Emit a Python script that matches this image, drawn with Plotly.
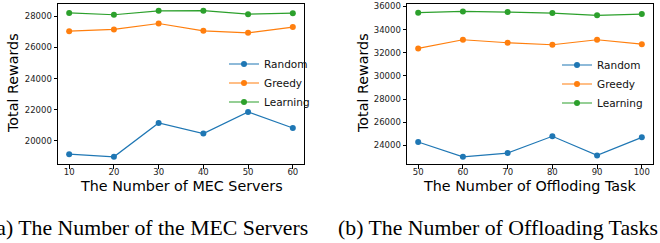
import plotly.graph_objects as go

W, H = 660, 243          # visible window
FW = 720                 # figure is a bit wider so the right legend is not clamped

# ---- data ----
servers = [10, 20, 30, 40, 50, 60]
srv_random = [19150, 18980, 21150, 20470, 21860, 20830]
srv_greedy = [27040, 27150, 27530, 27060, 26930, 27300]
srv_learning = [28210, 28090, 28340, 28350, 28130, 28190]

tasks = [50, 60, 70, 80, 90, 100]
tsk_random = [24290, 23010, 23330, 24780, 23130, 24690]
tsk_greedy = [32370, 33120, 32860, 32690, 33120, 32740]
tsk_learning = [35460, 35570, 35510, 35430, 35230, 35340]

series_names = ["Random", "Greedy", "Learning"]
colors = ["#1f77b4", "#ff7f0e", "#2ca02c"]

left_yticks = [20000, 22000, 24000, 26000, 28000]
right_yticks = [24000, 26000, 28000, 30000, 32000, 34000, 36000]

left_xtitle = "The Number of MEC Servers"
right_xtitle = "The Number of Offloding Task"
ytitle = "Total Rewards"
caption_a = "(a) The Number of the MEC Servers"
caption_b = "(b) The Number of Offloading Tasks"


def px_x(p):
    return p / FW


def px_y(p):
    return 1 - p / H


fig = go.Figure()

for name, col, ys in zip(series_names, colors, [srv_random, srv_greedy, srv_learning]):
    fig.add_trace(go.Scatter(x=servers, y=ys, mode="lines+markers", name=name,
                             line=dict(color=col, width=1.2),
                             marker=dict(color=col, size=6),
                             xaxis="x", yaxis="y", legend="legend"))
for name, col, ys in zip(series_names, colors, [tsk_random, tsk_greedy, tsk_learning]):
    fig.add_trace(go.Scatter(x=tasks, y=ys, mode="lines+markers", name=name,
                             line=dict(color=col, width=1.2),
                             marker=dict(color=col, size=6),
                             xaxis="x2", yaxis="y2", legend="legend2"))

axis_common = dict(showgrid=False, zeroline=False, showline=True, linecolor="black",
                   linewidth=1, mirror=True, ticks="outside", ticklen=3.5, tickwidth=0.8,
                   tickcolor="black", tickformat="d",
                   tickfont=dict(family="DejaVu Sans", size=8.5, color="#222"))

ydom = [px_y(164), px_y(4)]
legend_font = dict(family="DejaVu Sans", size=10.5, color="#111")

fig.update_layout(
    width=FW, height=H,
    margin=dict(l=0, r=0, t=0, b=0, autoexpand=False),
    paper_bgcolor="white", plot_bgcolor="white",
    font=dict(family="DejaVu Sans", color="black"),
    xaxis=dict(domain=[px_x(58), px_x(304)], range=[7.5, 62.5], tickvals=servers,
               anchor="y", ticklabelstandoff=-4, **axis_common),
    yaxis=dict(domain=ydom, range=[18520, 28780], tickvals=left_yticks,
               anchor="x", **axis_common),
    xaxis2=dict(domain=[px_x(407), px_x(653)], range=[47.5, 102.5], tickvals=tasks,
                anchor="y2", ticklabelstandoff=-4, **axis_common),
    yaxis2=dict(domain=ydom, range=[22385, 36210], tickvals=right_yticks,
                anchor="x2", **axis_common),
    legend=dict(x=px_x(224), y=px_y(83), xanchor="left", yanchor="middle",
                bgcolor="rgba(0,0,0,0)", font=legend_font),
    legend2=dict(x=px_x(557), y=px_y(84), xanchor="left", yanchor="middle",
                 bgcolor="rgba(0,0,0,0)", font=legend_font),
    showlegend=True,
)

ann = []
for xc in [13, 363]:
    ann.append(dict(text=ytitle, x=px_x(xc), y=px_y(83), xref="paper", yref="paper",
                    showarrow=False, textangle=-90, xanchor="center", yanchor="middle",
                    font=dict(family="DejaVu Sans", size=14.3, color="black")))
ann.append(dict(text=left_xtitle, x=px_x(181), y=px_y(186), xref="paper", yref="paper",
                showarrow=False, xanchor="center", yanchor="middle",
                font=dict(family="DejaVu Sans", size=14.3, color="black")))
ann.append(dict(text=right_xtitle, x=px_x(530), y=px_y(186), xref="paper", yref="paper",
                showarrow=False, xanchor="center", yanchor="middle",
                font=dict(family="DejaVu Sans", size=14.3, color="black")))
ann.append(dict(text=caption_a, x=px_x(310), y=px_y(227.5), xref="paper", yref="paper",
                showarrow=False, xanchor="right", yanchor="middle",
                font=dict(family="Liberation Serif", size=21.8, color="black")))
ann.append(dict(text=caption_b, x=px_x(336), y=px_y(227.5), xref="paper", yref="paper",
                showarrow=False, xanchor="left", yanchor="middle",
                font=dict(family="Liberation Serif", size=21.8, color="black")))
fig.update_layout(annotations=ann)

fig.write_html("out.html",
               config={"displayModeBar": False},
               post_script="document.body.style.margin='0';document.body.style.overflow='hidden';"
                           "document.documentElement.style.overflow='hidden';")
